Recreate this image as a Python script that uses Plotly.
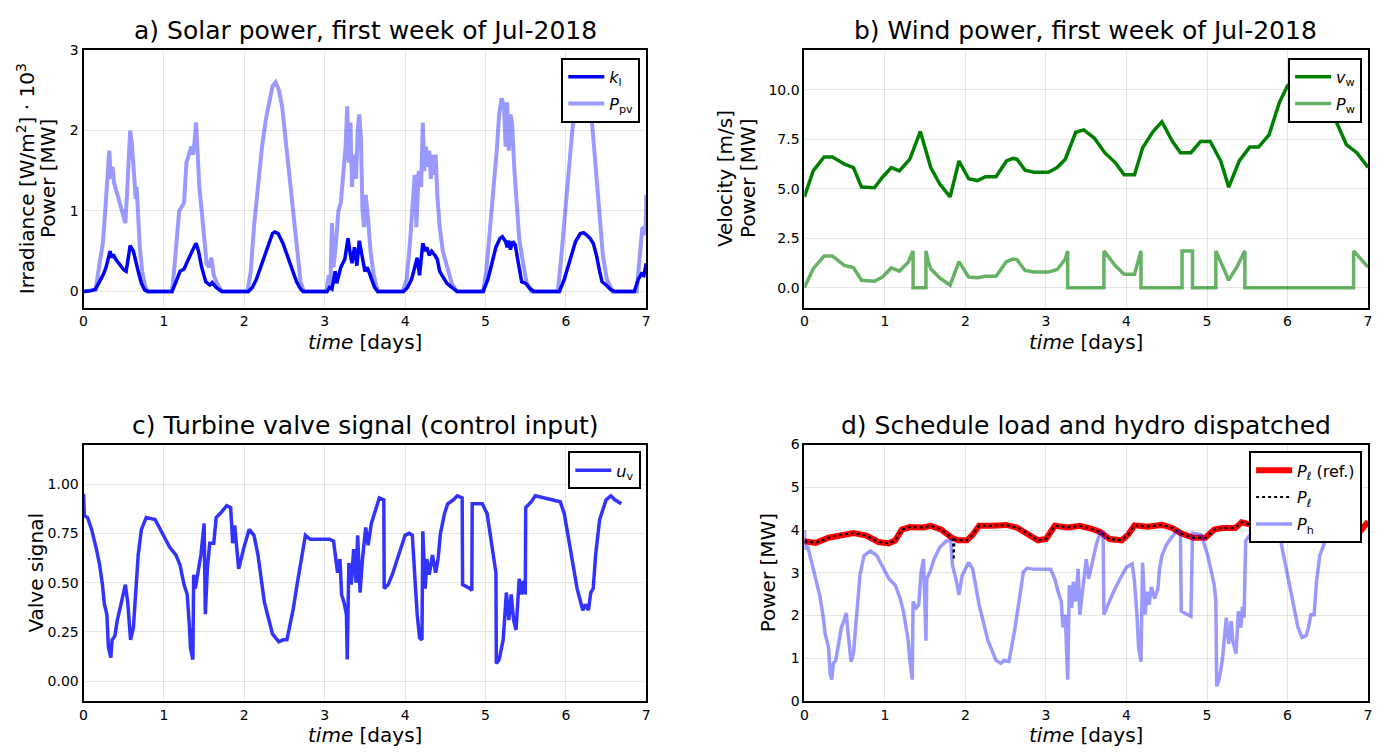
import plotly.graph_objects as go

# ---------------- data ----------------
# a) solar
kl_t = [0, 0.10, 0.15, 0.20, 0.25, 0.28, 0.30, 0.33, 0.35, 0.37,
        0.40, 0.45, 0.50, 0.53, 0.56, 0.58, 0.62, 0.65, 0.68, 0.72,
        0.76, 0.80, 1.10, 1.15, 1.20, 1.25, 1.30, 1.35, 1.40, 1.43,
        1.47, 1.52, 1.57, 1.60, 1.65, 1.72, 2.05, 2.10, 2.15, 2.20,
        2.25, 2.30, 2.35, 2.38, 2.42, 2.48, 2.55, 2.60, 2.65, 2.70,
        2.73, 3.03, 3.06, 3.09, 3.11, 3.13, 3.15, 3.20, 3.25, 3.29,
        3.32, 3.34, 3.37, 3.40, 3.43, 3.46, 3.50, 3.53, 3.58, 3.62,
        3.66, 3.98, 4.03, 4.08, 4.12, 4.15, 4.18, 4.22, 4.25, 4.27,
        4.30, 4.33, 4.37, 4.40, 4.43, 4.47, 4.52, 4.58, 4.65, 4.97,
        5.03, 5.08, 5.13, 5.18, 5.21, 5.25, 5.27, 5.29, 5.31, 5.34,
        5.37, 5.40, 5.43, 5.45, 5.50, 5.55, 5.60, 5.92, 5.98, 6.05,
        6.12, 6.18, 6.22, 6.26, 6.30, 6.34, 6.38, 6.42, 6.45, 6.50,
        6.55, 6.60, 6.85, 6.90, 6.94, 6.97, 7.00]
kl_v = [0, 0.01, 0.03, 0.12, 0.22, 0.30, 0.38, 0.50, 0.42, 0.46,
        0.40, 0.33, 0.27, 0.25, 0.45, 0.57, 0.50, 0.35, 0.25, 0.10,
        0.02, 0, 0, 0.12, 0.25, 0.28, 0.40, 0.50, 0.60, 0.50,
        0.30, 0.12, 0.08, 0.11, 0.05, 0, 0, 0.05, 0.15, 0.30,
        0.45, 0.60, 0.72, 0.74, 0.72, 0.60, 0.40, 0.25, 0.12, 0.03,
        0, 0, 0.05, 0.03, 0.15, 0.25, 0.10, 0.30, 0.40, 0.66,
        0.45, 0.35, 0.55, 0.32, 0.63, 0.45, 0.25, 0.30, 0.15, 0.05,
        0, 0, 0.05, 0.15, 0.30, 0.42, 0.20, 0.60, 0.50, 0.55,
        0.45, 0.50, 0.45, 0.40, 0.25, 0.18, 0.10, 0.05, 0, 0,
        0.15, 0.35, 0.55, 0.66, 0.68, 0.62, 0.55, 0.63, 0.52, 0.62,
        0.58, 0.40, 0.20, 0.12, 0.10, 0.04, 0, 0, 0.15, 0.40,
        0.62, 0.72, 0.73, 0.70, 0.66, 0.60, 0.45, 0.25, 0.12, 0.08,
        0.03, 0, 0, 0.15, 0.22, 0.20, 0.35]

ppv_t = [0, 0.15, 0.20, 0.24, 0.27, 0.30, 0.32, 0.34, 0.36, 0.38,
         0.41, 0.44, 0.47, 0.50, 0.52, 0.54, 0.56, 0.58, 0.60, 0.62,
         0.64, 0.65, 0.66, 0.68, 0.70, 0.73, 0.77, 0.80, 1.10, 1.13,
         1.16, 1.19, 1.22, 1.25, 1.28, 1.31, 1.34, 1.36, 1.38, 1.40,
         1.42, 1.44, 1.47, 1.50, 1.53, 1.56, 1.59, 1.62, 1.66, 1.72,
         2.04, 2.08, 2.12, 2.17, 2.22, 2.27, 2.31, 2.35, 2.39, 2.43,
         2.47, 2.50, 2.54, 2.58, 2.62, 2.66, 2.70, 2.74, 3.02, 3.05,
         3.07, 3.09, 3.11, 3.14, 3.17, 3.20, 3.23, 3.26, 3.28, 3.30,
         3.32, 3.34, 3.36, 3.39, 3.41, 3.43, 3.45, 3.47, 3.49, 3.51,
         3.54, 3.57, 3.61, 3.66, 3.97, 4.02, 4.06, 4.09, 4.12, 4.14,
         4.17, 4.20, 4.22, 4.24, 4.26, 4.28, 4.30, 4.32, 4.34, 4.36,
         4.38, 4.40, 4.43, 4.47, 4.52, 4.58, 4.64, 4.97, 5.01, 5.06,
         5.10, 5.14, 5.17, 5.20, 5.23, 5.25, 5.27, 5.29, 5.31, 5.33,
         5.36, 5.39, 5.42, 5.46, 5.51, 5.57, 5.90, 5.94, 5.98, 6.03,
         6.08, 6.13, 6.18, 6.22, 6.26, 6.29, 6.32, 6.35, 6.38, 6.42,
         6.46, 6.51, 6.58, 6.88, 6.93, 6.95, 6.97, 6.99, 7.00]
ppv_v = [0, 0.02, 0.35, 0.6, 1.0, 1.5, 1.75, 1.4, 1.55, 1.35,
         1.25, 1.15, 1.05, 0.95, 0.85, 1.2, 1.55, 2.0, 1.85, 1.6,
         1.3, 1.15, 1.3, 0.8, 0.55, 0.25, 0.05, 0, 0, 0.3,
         0.7, 1.0, 1.05, 1.1, 1.6, 1.7, 1.8, 1.7, 1.85, 2.1,
         1.7, 1.3, 1.0, 0.65, 0.35, 0.3, 0.42, 0.2, 0.1, 0,
         0, 0.25, 0.8, 1.3, 1.8, 2.15, 2.35, 2.55, 2.6, 2.5,
         2.3, 2.0, 1.6, 1.2, 0.8, 0.4, 0.12, 0, 0, 0.2,
         0.05, 0.85, 0.3, 0.6, 1.0, 1.1, 1.4, 1.8, 2.3, 1.6,
         2.1, 1.3, 1.7, 1.4, 2.0, 2.2, 1.9, 1.0, 0.8, 1.2,
         0.9, 0.5, 0.2, 0, 0, 0.15, 0.6, 1.0, 1.45, 0.8,
         1.5, 1.3, 2.1, 1.5, 1.8, 1.55, 1.75, 1.4, 1.7, 1.45,
         1.7, 1.2, 0.8, 0.5, 0.3, 0.1, 0, 0, 0.25, 0.8,
         1.3, 1.75, 2.2, 2.4, 2.3, 1.8, 2.35, 1.75, 2.2, 2.1,
         1.5, 1.0, 0.65, 0.4, 0.12, 0, 0, 0.4, 0.9, 1.5,
         2.0, 2.4, 2.65, 2.7, 2.5, 2.2, 2.15, 1.8, 1.4, 0.9,
         0.45, 0.15, 0, 0, 0.6, 0.78, 0.8, 0.7, 1.2]

# b) wind
vw_t = [0, 0.11, 0.245, 0.35, 0.5, 0.61, 0.71, 0.87, 0.97, 1.08,
        1.18, 1.31, 1.44, 1.57, 1.68, 1.81, 1.92, 2.04, 2.15, 2.25,
        2.38, 2.51, 2.59, 2.64, 2.74, 2.85, 3.03, 3.14, 3.24, 3.37,
        3.47, 3.6, 3.73, 3.86, 3.97, 4.1, 4.2, 4.33, 4.44, 4.57,
        4.67, 4.8, 4.92, 5.04, 5.17, 5.27, 5.4, 5.53, 5.64, 5.77,
        5.9, 6.0, 6.2, 6.4, 6.57, 6.73, 6.86, 7.0]
vw_v = [4.59, 5.9, 6.6, 6.6, 6.24, 6.07, 5.08, 5.05, 5.58, 6.07,
        5.9, 6.49, 7.89, 6.07, 5.25, 4.59, 6.4, 5.5, 5.41, 5.61,
        5.61, 6.4, 6.53, 6.49, 5.94, 5.83, 5.83, 6.07, 6.49, 7.85,
        7.97, 7.56, 6.82, 6.32, 5.71, 5.71, 7.06, 7.89, 8.38, 7.39,
        6.82, 6.82, 7.39, 7.39, 6.4, 5.08, 6.4, 7.1, 7.1, 7.72,
        9.37, 10.2, 10.8, 10.3, 8.71, 7.23, 6.82, 6.07]

pw_t = [0, 0.11, 0.245, 0.35, 0.5, 0.61, 0.71, 0.87, 0.97, 1.08,
        1.18, 1.29, 1.35, 1.35, 1.51, 1.51, 1.54, 1.57, 1.68, 1.81,
        1.92, 2.04, 2.15, 2.25, 2.38, 2.51, 2.59, 2.64, 2.74, 2.85,
        3.03, 3.14, 3.24, 3.27, 3.27, 3.72, 3.72, 3.86, 3.97, 4.1,
        4.18, 4.18, 4.69, 4.69, 4.82, 4.82, 5.11, 5.11, 5.19, 5.27,
        5.37, 5.47, 5.47, 6.82, 6.82, 7.0]
pw_v = [0, 0.96, 1.6, 1.6, 1.12, 1.02, 0.38, 0.33, 0.54, 1.0,
        0.84, 1.29, 1.86, 0, 0, 1.86, 1.3, 0.96, 0.5, 0.13,
        1.32, 0.54, 0.5, 0.58, 0.58, 1.32, 1.45, 1.42, 0.87, 0.79,
        0.79, 0.92, 1.45, 1.86, 0, 0, 1.86, 1.12, 0.68, 0.68,
        1.86, 0, 0, 1.86, 1.86, 0, 0, 1.86, 1.12, 0.38,
        1.04, 1.86, 0, 0, 1.86, 1.04]

# c) valve signal
uv_t = [0, 0.01, 0.05, 0.1, 0.16, 0.2, 0.235, 0.26, 0.29, 0.31,
        0.34, 0.355, 0.39, 0.42, 0.46, 0.5, 0.52, 0.55, 0.585, 0.62,
        0.65, 0.68, 0.72, 0.78, 0.89, 0.97, 1.07, 1.15, 1.2, 1.25,
        1.29, 1.32, 1.33, 1.36, 1.37, 1.39, 1.42, 1.46, 1.5, 1.515,
        1.54, 1.57, 1.62, 1.65, 1.7, 1.78, 1.83, 1.855, 1.88, 1.91,
        1.93, 1.99, 2.06, 2.12, 2.17, 2.25, 2.35, 2.43, 2.48, 2.53,
        2.61, 2.66, 2.72, 2.76, 2.82, 2.9, 3.06, 3.11, 3.13, 3.16,
        3.19, 3.21, 3.24, 3.27, 3.28, 3.30, 3.33, 3.36, 3.39, 3.41,
        3.44, 3.47, 3.51, 3.54, 3.58, 3.63, 3.68, 3.735, 3.74, 3.79,
        3.84, 3.92, 4.0, 4.05, 4.09, 4.13, 4.15, 4.18, 4.21, 4.22,
        4.25, 4.27, 4.30, 4.34, 4.38, 4.41, 4.44, 4.49, 4.53, 4.60,
        4.65, 4.71, 4.715, 4.81, 4.83, 4.835, 4.96, 5.02, 5.07, 5.13,
        5.135, 5.17, 5.22, 5.26, 5.29, 5.32, 5.35, 5.38, 5.42, 5.445,
        5.475, 5.495, 5.50, 5.57, 5.62, 5.72, 5.8, 5.93, 5.98, 6.06,
        6.14, 6.21, 6.24, 6.28, 6.31, 6.34, 6.37, 6.42, 6.47, 6.5,
        6.56, 6.61, 6.69]
uv_v = [0.95, 0.84, 0.83, 0.77, 0.67, 0.59, 0.49, 0.39, 0.34, 0.17,
        0.12, 0.21, 0.23, 0.31, 0.38, 0.45, 0.49, 0.40, 0.21, 0.27,
        0.47, 0.64, 0.77, 0.83, 0.82, 0.76, 0.68, 0.64, 0.59, 0.49,
        0.44, 0.26, 0.17, 0.11, 0.54, 0.47, 0.55, 0.64, 0.80, 0.34,
        0.57, 0.70, 0.70, 0.83, 0.85, 0.89, 0.88, 0.70, 0.79, 0.67,
        0.57, 0.67, 0.77, 0.74, 0.64, 0.40, 0.24, 0.20, 0.21, 0.21,
        0.37, 0.50, 0.64, 0.74, 0.72, 0.72, 0.72, 0.71, 0.64, 0.55,
        0.62, 0.44, 0.40, 0.34, 0.11, 0.60, 0.49, 0.67, 0.50, 0.74,
        0.45, 0.62, 0.78, 0.69, 0.80, 0.87, 0.93, 0.92, 0.47, 0.49,
        0.54, 0.64, 0.74, 0.75, 0.74, 0.47, 0.34, 0.22, 0.21, 0.76,
        0.47, 0.62, 0.54, 0.64, 0.55, 0.62, 0.75, 0.85, 0.90, 0.92,
        0.94, 0.93, 0.49, 0.47, 0.46, 0.90, 0.90, 0.85, 0.70, 0.55,
        0.09, 0.11, 0.21, 0.45, 0.31, 0.44, 0.31, 0.26, 0.52, 0.44,
        0.51, 0.44, 0.88, 0.91, 0.94, 0.93, 0.92, 0.91, 0.85, 0.67,
        0.47, 0.36, 0.39, 0.36, 0.45, 0.47, 0.64, 0.82, 0.88, 0.92,
        0.94, 0.92, 0.90]

# d) load and hydro
plref_t = [0, 0.14, 0.3, 0.45, 0.61, 0.77, 0.92, 1.05, 1.13, 1.21,
           1.31, 1.47, 1.57, 1.70, 1.83, 1.91, 2.02, 2.09, 2.17, 2.33,
           2.51, 2.64, 2.80, 2.90, 3.0, 3.11, 3.27, 3.42, 3.58, 3.68,
           3.79, 3.94, 4.02, 4.10, 4.26, 4.44, 4.57, 4.67, 4.83, 4.98,
           5.09, 5.19, 5.35, 5.43, 5.6, 5.77, 5.92, 6.03, 6.2, 6.4,
           6.55, 6.65, 6.76, 6.86, 7.0]
plref_v = [3.74, 3.70, 3.82, 3.89, 3.93, 3.87, 3.72, 3.69, 3.76, 4.01,
           4.07, 4.06, 4.10, 4.01, 3.82, 3.76, 3.76, 3.89, 4.10, 4.10,
           4.12, 4.06, 3.89, 3.76, 3.79, 4.10, 4.06, 4.10, 4.02, 3.95,
           3.79, 3.76, 3.89, 4.11, 4.08, 4.12, 4.05, 3.93, 3.82, 3.82,
           4.01, 4.05, 4.05, 4.18, 4.1, 3.89, 3.92, 3.97, 4.1, 4.1,
           4.05, 3.82, 3.79, 3.87, 4.2]

pl_t = [0, 0.14, 0.3, 0.45, 0.61, 0.77, 0.92, 1.05, 1.13, 1.21,
        1.31, 1.47, 1.57, 1.70, 1.83, 1.845, 1.855, 1.865, 1.91, 2.02,
        2.09, 2.17, 2.33, 2.51, 2.64, 2.80, 2.90, 3.0, 3.11, 3.27,
        3.42, 3.58, 3.68, 3.79, 3.94, 4.02, 4.10, 4.26, 4.44, 4.57,
        4.67, 4.83, 4.98, 5.09, 5.19, 5.35, 5.43, 5.6, 5.77, 5.92,
        6.03, 6.2, 6.4, 6.55, 6.65]
pl_v = [3.74, 3.70, 3.82, 3.89, 3.93, 3.87, 3.72, 3.69, 3.76, 4.01,
        4.07, 4.06, 4.10, 4.01, 3.82, 3.79, 3.30, 3.78, 3.76, 3.76,
        3.89, 4.10, 4.10, 4.12, 4.06, 3.89, 3.76, 3.79, 4.10, 4.06,
        4.10, 4.02, 3.95, 3.79, 3.76, 3.89, 4.11, 4.08, 4.12, 4.05,
        3.93, 3.82, 3.82, 4.01, 4.05, 4.05, 4.18, 4.1, 3.89, 3.92,
        3.97, 4.1, 4.1, 4.05, 3.82]

ph_t = [0, 0.01, 0.04, 0.09, 0.14, 0.19, 0.23, 0.26, 0.30, 0.32,
        0.34, 0.36, 0.39, 0.43, 0.46, 0.49, 0.52, 0.54, 0.58, 0.61,
        0.65, 0.69, 0.74, 0.82, 0.90, 0.97, 1.05, 1.13, 1.19, 1.23,
        1.29, 1.31, 1.34, 1.35, 1.39, 1.42, 1.45, 1.48, 1.51, 1.52,
        1.56, 1.61, 1.68, 1.76, 1.82, 1.84, 1.86, 1.89, 1.92, 1.96,
        2.04, 2.09, 2.17, 2.28, 2.38, 2.44, 2.48, 2.54, 2.61, 2.67,
        2.72, 2.77, 2.85, 3.06, 3.11, 3.15, 3.19, 3.21, 3.24, 3.27,
        3.29, 3.32, 3.34, 3.37, 3.40, 3.42, 3.46, 3.50, 3.53, 3.58,
        3.63, 3.68, 3.71, 3.72, 3.76, 3.84, 3.92, 4.0, 4.07, 4.10,
        4.13, 4.15, 4.18, 4.20, 4.23, 4.26, 4.28, 4.31, 4.35, 4.39,
        4.41, 4.44, 4.49, 4.54, 4.62, 4.67, 4.68, 4.80, 4.82, 4.93,
        5.01, 5.09, 5.11, 5.12, 5.15, 5.19, 5.24, 5.27, 5.30, 5.32,
        5.36, 5.39, 5.42, 5.44, 5.46, 5.48, 5.52, 5.6, 5.75, 5.88,
        5.92, 5.97, 6.05, 6.13, 6.18, 6.23, 6.26, 6.29, 6.33, 6.36,
        6.40, 6.44, 6.49, 6.55, 6.62]
ph_v = [4.0, 3.55, 3.63, 3.24, 2.86, 2.48, 2.02, 1.56, 1.26, 0.65,
        0.50, 0.88, 0.95, 1.41, 1.72, 1.87, 2.06, 1.64, 0.92, 1.11,
        2.02, 2.94, 3.40, 3.51, 3.40, 3.13, 2.86, 2.71, 2.40, 2.10,
        1.41, 0.95, 0.50, 2.33, 2.18, 2.25, 3.02, 3.32, 1.41, 2.86,
        3.02, 3.32, 3.59, 3.74, 3.76, 3.17, 3.02, 2.79, 2.48, 2.94,
        3.24, 3.09, 2.25, 1.41, 0.95, 0.88, 0.95, 0.92, 1.64, 2.33,
        3.02, 3.11, 3.08, 3.08, 2.86, 2.56, 2.33, 1.72, 2.02, 0.50,
        2.71, 2.18, 2.79, 2.33, 3.09, 2.02, 2.63, 3.32, 2.86, 3.32,
        3.70, 3.97, 3.89, 2.02, 2.21, 2.56, 2.86, 3.13, 3.21, 2.79,
        2.02, 1.26, 0.92, 3.24, 2.02, 2.56, 2.25, 2.67, 2.40, 2.63,
        3.09, 3.40, 3.63, 3.78, 3.97, 3.95, 2.10, 1.98, 3.93, 3.89,
        3.40, 2.71, 2.33, 0.34, 0.50, 0.95, 1.95, 1.34, 1.87, 1.41,
        1.11, 2.10, 1.72, 2.21, 1.95, 3.74, 3.86, 4.0, 3.95, 3.90,
        3.70, 3.24, 2.48, 1.72, 1.49, 1.53, 1.72, 2.02, 2.02, 2.79,
        3.40, 3.63, 3.86, 3.97, 4.0]

for a, b in [(kl_t, kl_v), (ppv_t, ppv_v), (vw_t, vw_v), (pw_t, pw_v),
             (uv_t, uv_v), (plref_t, plref_v), (pl_t, pl_v), (ph_t, ph_v)]:
    assert len(a) == len(b), (len(a), len(b))

x_ticks = [0, 1, 2, 3, 4, 5, 6, 7]

# ---------------- figure ----------------
W, H = 1385, 756
FONT = "DejaVu Sans"


def px(x):
    return x / W


def py(y):
    return 1 - y / H


fig = go.Figure()


def line(x, y, name, color, width, axis, legend, dash="solid"):
    fig.add_trace(go.Scatter(x=x, y=y, name=name, mode="lines",
                             line=dict(color=color, width=width, dash=dash),
                             xaxis="x" + axis, yaxis="y" + axis,
                             legend=legend, legendgroup=name,
                             hoverinfo="skip"))


line(kl_t, kl_v, "<i>k</i><sub>l</sub>", "#0000ff", 3.5, "", "legend")
line(ppv_t, ppv_v, "<i>P</i><sub>pv</sub>", "rgba(0,0,255,0.4)", 4, "", "legend")
line(vw_t, vw_v, "<i>v</i><sub>w</sub>", "#008000", 3.5, "2", "legend2")
line(pw_t, pw_v, "<i>P</i><sub>w</sub>", "rgba(0,128,0,0.6)", 3.5, "2", "legend2")
line(uv_t, uv_v, "<i>u</i><sub>v</sub>", "rgba(0,0,255,0.8)", 3.5, "3", "legend3")
line(plref_t, plref_v, "<i>P</i><sub><i>ℓ</i></sub> (ref.)", "#ff0000", 6, "4", "legend4")
line(pl_t, pl_v, "<i>P</i><sub><i>ℓ</i></sub>", "#000000", 2, "4", "legend4", dash="dot")
line(ph_t, ph_v, "<i>P</i><sub>h</sub>", "rgba(0,0,255,0.4)", 3.5, "4", "legend4")

xl, xr = px(80), px(646)
xl2, xr2 = px(805), px(1372)
ytop_b, ytop_t = py(306), py(43)
ybot_b, ybot_t = py(708), py(446)

axis_common = dict(showline=True, linecolor="black", linewidth=2, mirror=True,
                   showgrid=True, gridcolor="rgba(0,0,0,0.1)", gridwidth=1,
                   zeroline=False, ticks="", tickfont=dict(size=14, color="black", family=FONT))

xa = dict(axis_common, range=[0, 7], tickvals=x_ticks)

fig.update_layout(
    width=W, height=H, margin=dict(l=0, r=0, t=0, b=0),
    plot_bgcolor="white", paper_bgcolor="white",
    font=dict(family=FONT, color="black"),
    xaxis=dict(xa, domain=[xl, xr], anchor="y"),
    yaxis=dict(axis_common, domain=[ytop_b, ytop_t], anchor="x", range=[-0.2, 3],
               tickvals=[0, 1, 2, 3]),
    xaxis2=dict(xa, domain=[xl2, xr2], anchor="y2"),
    yaxis2=dict(axis_common, domain=[ytop_b, ytop_t], anchor="x2", range=[-1, 12],
                tickvals=[0, 2.5, 5, 7.5, 10], ticktext=["0.0", "2.5", "5.0", "7.5", "10.0"]),
    xaxis3=dict(xa, domain=[xl, xr], anchor="y3"),
    yaxis3=dict(axis_common, domain=[ybot_b, ybot_t], anchor="x3", range=[-0.1, 1.2],
                tickvals=[0, 0.25, 0.5, 0.75, 1.0],
                ticktext=["0.00", "0.25", "0.50", "0.75", "1.00"]),
    xaxis4=dict(xa, domain=[xl2, xr2], anchor="y4"),
    yaxis4=dict(axis_common, domain=[ybot_b, ybot_t], anchor="x4", range=[0, 6],
                tickvals=[0, 1, 2, 3, 4, 5, 6]),
)

leg_common = dict(bgcolor="white", bordercolor="black", borderwidth=2,
                  font=dict(size=16, family=FONT, color="black"),
                  xanchor="right", yanchor="top", itemwidth=36, tracegroupgap=3)
fig.update_layout(
    legend=dict(leg_common, x=px(640), y=py(51)),
    legend2=dict(leg_common, x=px(1366), y=py(51)),
    legend3=dict(leg_common, x=px(641), y=py(453)),
    legend4=dict(leg_common, x=px(1366), y=py(453)),
)

ann = []


def text(x, y, s, size, angle=0):
    ann.append(dict(x=px(x), y=py(y), xref="paper", yref="paper", text=s,
                    showarrow=False, xanchor="center", yanchor="middle",
                    textangle=angle, font=dict(size=size, family=FONT, color="black")))


text(364, 23, "a) Solar power, first week of Jul-2018", 25)
text(1088, 23, "b) Wind power, first week of Jul-2018", 25)
text(364, 427, "c) Turbine valve signal (control input)", 25)
text(1088, 427, "d) Schedule load and hydro dispatched", 25)

text(363, 341, "<i>time</i> [days]", 20)
text(1088, 341, "<i>time</i> [days]", 20)
text(363, 743, "<i>time</i> [days]", 20)
text(1088, 743, "<i>time</i> [days]", 20)

text(22, 174, "Irradiance [W/m<sup>2</sup>] · 10<sup>3</sup>", 20, -90)
text(45, 174, "Power [MW]", 20, -90)
text(726, 174, "Velocity [m/s]", 20, -90)
text(749, 174, "Power [MW]", 20, -90)
text(32, 577, "Valve signal", 20, -90)
text(768, 577, "Power [MW]", 20, -90)

fig.update_layout(annotations=ann)

fig.write_html("out.html")
